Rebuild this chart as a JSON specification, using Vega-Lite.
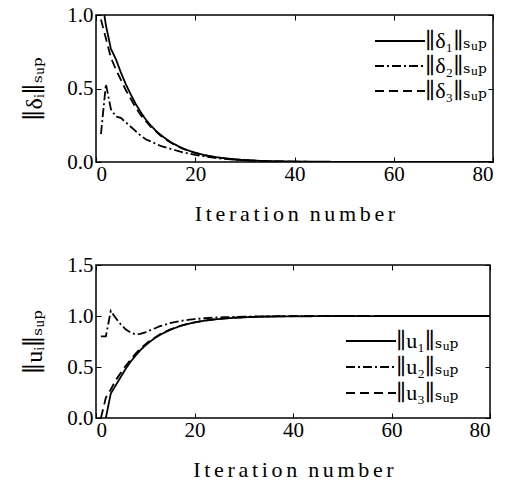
{
  "$schema": "https://vega.github.io/schema/vega-lite/v6.json",
  "background": "white",
  "padding": {"left": 22, "top": -8, "right": 5, "bottom": 5},
  "config": {
    "font": "Liberation Serif, DejaVu Serif",
    "view": {"stroke": "black", "strokeWidth": 1.5},
    "axis": {
      "domain": false, "grid": false, "ticks": true, "tickColor": "black", "tickSize": -5, "tickWidth": 1, "minExtent": 0,
      "labelFont": "Liberation Serif, DejaVu Serif", "labelFontSize": 21, "labelColor": "black",
      "titleFont": "Liberation Serif, DejaVu Serif", "titleFontWeight": "normal", "titleColor": "black"
    },
    "axisX": {"labelPadding": 6},
    "axisY": {"labelPadding": 8},
    "legend": {
      "labelFont": "Liberation Serif, DejaVu Serif", "labelFontSize": 22, "labelColor": "black",
      "symbolType": "M-2.5,0H2.5", "symbolSize": 400, "symbolStrokeWidth": 2, "symbolStrokeColor": "black", "symbolFillColor": "transparent",
      "labelOffset": 14, "title": null
    }
  },
  "datasets": {
    "delta": [
      {"it": 1, "series": "∥δ₁∥ₛᵤₚ", "v": 1.15}, {"it": 2, "series": "∥δ₁∥ₛᵤₚ", "v": 0.93}, {"it": 3, "series": "∥δ₁∥ₛᵤₚ", "v": 0.77},
      {"it": 4, "series": "∥δ₁∥ₛᵤₚ", "v": 0.70}, {"it": 5, "series": "∥δ₁∥ₛᵤₚ", "v": 0.61}, {"it": 6, "series": "∥δ₁∥ₛᵤₚ", "v": 0.53},
      {"it": 7, "series": "∥δ₁∥ₛᵤₚ", "v": 0.46}, {"it": 8, "series": "∥δ₁∥ₛᵤₚ", "v": 0.395}, {"it": 9, "series": "∥δ₁∥ₛᵤₚ", "v": 0.34},
      {"it": 10, "series": "∥δ₁∥ₛᵤₚ", "v": 0.29}, {"it": 11, "series": "∥δ₁∥ₛᵤₚ", "v": 0.25}, {"it": 12, "series": "∥δ₁∥ₛᵤₚ", "v": 0.215},
      {"it": 13, "series": "∥δ₁∥ₛᵤₚ", "v": 0.185}, {"it": 14, "series": "∥δ₁∥ₛᵤₚ", "v": 0.16}, {"it": 15, "series": "∥δ₁∥ₛᵤₚ", "v": 0.137},
      {"it": 16, "series": "∥δ₁∥ₛᵤₚ", "v": 0.118}, {"it": 17, "series": "∥δ₁∥ₛᵤₚ", "v": 0.10}, {"it": 18, "series": "∥δ₁∥ₛᵤₚ", "v": 0.086},
      {"it": 19, "series": "∥δ₁∥ₛᵤₚ", "v": 0.074}, {"it": 20, "series": "∥δ₁∥ₛᵤₚ", "v": 0.063}, {"it": 22, "series": "∥δ₁∥ₛᵤₚ", "v": 0.046},
      {"it": 24, "series": "∥δ₁∥ₛᵤₚ", "v": 0.034}, {"it": 26, "series": "∥δ₁∥ₛᵤₚ", "v": 0.025}, {"it": 28, "series": "∥δ₁∥ₛᵤₚ", "v": 0.018},
      {"it": 30, "series": "∥δ₁∥ₛᵤₚ", "v": 0.013}, {"it": 33, "series": "∥δ₁∥ₛᵤₚ", "v": 0.008}, {"it": 36, "series": "∥δ₁∥ₛᵤₚ", "v": 0.005},
      {"it": 40, "series": "∥δ₁∥ₛᵤₚ", "v": 0.003}, {"it": 50, "series": "∥δ₁∥ₛᵤₚ", "v": 0.001}, {"it": 60, "series": "∥δ₁∥ₛᵤₚ", "v": 0.0},
      {"it": 80, "series": "∥δ₁∥ₛᵤₚ", "v": 0.0},

      {"it": 1, "series": "∥δ₂∥ₛᵤₚ", "v": 0.19}, {"it": 2, "series": "∥δ₂∥ₛᵤₚ", "v": 0.53}, {"it": 3, "series": "∥δ₂∥ₛᵤₚ", "v": 0.36},
      {"it": 4, "series": "∥δ₂∥ₛᵤₚ", "v": 0.31}, {"it": 5, "series": "∥δ₂∥ₛᵤₚ", "v": 0.30}, {"it": 6, "series": "∥δ₂∥ₛᵤₚ", "v": 0.27},
      {"it": 7, "series": "∥δ₂∥ₛᵤₚ", "v": 0.24}, {"it": 8, "series": "∥δ₂∥ₛᵤₚ", "v": 0.21}, {"it": 9, "series": "∥δ₂∥ₛᵤₚ", "v": 0.18},
      {"it": 10, "series": "∥δ₂∥ₛᵤₚ", "v": 0.155}, {"it": 11, "series": "∥δ₂∥ₛᵤₚ", "v": 0.14}, {"it": 12, "series": "∥δ₂∥ₛᵤₚ", "v": 0.125},
      {"it": 13, "series": "∥δ₂∥ₛᵤₚ", "v": 0.11}, {"it": 14, "series": "∥δ₂∥ₛᵤₚ", "v": 0.10}, {"it": 15, "series": "∥δ₂∥ₛᵤₚ", "v": 0.09},
      {"it": 16, "series": "∥δ₂∥ₛᵤₚ", "v": 0.08}, {"it": 17, "series": "∥δ₂∥ₛᵤₚ", "v": 0.07}, {"it": 18, "series": "∥δ₂∥ₛᵤₚ", "v": 0.062},
      {"it": 19, "series": "∥δ₂∥ₛᵤₚ", "v": 0.055}, {"it": 20, "series": "∥δ₂∥ₛᵤₚ", "v": 0.048}, {"it": 22, "series": "∥δ₂∥ₛᵤₚ", "v": 0.037},
      {"it": 24, "series": "∥δ₂∥ₛᵤₚ", "v": 0.028}, {"it": 26, "series": "∥δ₂∥ₛᵤₚ", "v": 0.021}, {"it": 28, "series": "∥δ₂∥ₛᵤₚ", "v": 0.016},
      {"it": 30, "series": "∥δ₂∥ₛᵤₚ", "v": 0.012}, {"it": 35, "series": "∥δ₂∥ₛᵤₚ", "v": 0.005}, {"it": 40, "series": "∥δ₂∥ₛᵤₚ", "v": 0.002},
      {"it": 50, "series": "∥δ₂∥ₛᵤₚ", "v": 0.0}, {"it": 80, "series": "∥δ₂∥ₛᵤₚ", "v": 0.0},

      {"it": 1, "series": "∥δ₃∥ₛᵤₚ", "v": 0.97}, {"it": 2, "series": "∥δ₃∥ₛᵤₚ", "v": 0.84}, {"it": 3, "series": "∥δ₃∥ₛᵤₚ", "v": 0.71},
      {"it": 4, "series": "∥δ₃∥ₛᵤₚ", "v": 0.63}, {"it": 5, "series": "∥δ₃∥ₛᵤₚ", "v": 0.56}, {"it": 6, "series": "∥δ₃∥ₛᵤₚ", "v": 0.49},
      {"it": 7, "series": "∥δ₃∥ₛᵤₚ", "v": 0.43}, {"it": 8, "series": "∥δ₃∥ₛᵤₚ", "v": 0.37}, {"it": 9, "series": "∥δ₃∥ₛᵤₚ", "v": 0.32},
      {"it": 10, "series": "∥δ₃∥ₛᵤₚ", "v": 0.28}, {"it": 11, "series": "∥δ₃∥ₛᵤₚ", "v": 0.24}, {"it": 12, "series": "∥δ₃∥ₛᵤₚ", "v": 0.21},
      {"it": 13, "series": "∥δ₃∥ₛᵤₚ", "v": 0.18}, {"it": 14, "series": "∥δ₃∥ₛᵤₚ", "v": 0.155}, {"it": 15, "series": "∥δ₃∥ₛᵤₚ", "v": 0.133},
      {"it": 16, "series": "∥δ₃∥ₛᵤₚ", "v": 0.115}, {"it": 17, "series": "∥δ₃∥ₛᵤₚ", "v": 0.098}, {"it": 18, "series": "∥δ₃∥ₛᵤₚ", "v": 0.084},
      {"it": 19, "series": "∥δ₃∥ₛᵤₚ", "v": 0.072}, {"it": 20, "series": "∥δ₃∥ₛᵤₚ", "v": 0.062}, {"it": 22, "series": "∥δ₃∥ₛᵤₚ", "v": 0.045},
      {"it": 24, "series": "∥δ₃∥ₛᵤₚ", "v": 0.033}, {"it": 26, "series": "∥δ₃∥ₛᵤₚ", "v": 0.024}, {"it": 28, "series": "∥δ₃∥ₛᵤₚ", "v": 0.017},
      {"it": 30, "series": "∥δ₃∥ₛᵤₚ", "v": 0.012}, {"it": 33, "series": "∥δ₃∥ₛᵤₚ", "v": 0.007}, {"it": 36, "series": "∥δ₃∥ₛᵤₚ", "v": 0.004},
      {"it": 40, "series": "∥δ₃∥ₛᵤₚ", "v": 0.002}, {"it": 50, "series": "∥δ₃∥ₛᵤₚ", "v": 0.0}, {"it": 80, "series": "∥δ₃∥ₛᵤₚ", "v": 0.0}
    ],
    "u": [
      {"it": 1, "series": "∥u₁∥ₛᵤₚ", "v": -0.3}, {"it": 2, "series": "∥u₁∥ₛᵤₚ", "v": 0.0}, {"it": 3, "series": "∥u₁∥ₛᵤₚ", "v": 0.24},
      {"it": 4, "series": "∥u₁∥ₛᵤₚ", "v": 0.32}, {"it": 5, "series": "∥u₁∥ₛᵤₚ", "v": 0.40}, {"it": 6, "series": "∥u₁∥ₛᵤₚ", "v": 0.48},
      {"it": 7, "series": "∥u₁∥ₛᵤₚ", "v": 0.55}, {"it": 8, "series": "∥u₁∥ₛᵤₚ", "v": 0.61}, {"it": 9, "series": "∥u₁∥ₛᵤₚ", "v": 0.665},
      {"it": 10, "series": "∥u₁∥ₛᵤₚ", "v": 0.71}, {"it": 11, "series": "∥u₁∥ₛᵤₚ", "v": 0.75}, {"it": 12, "series": "∥u₁∥ₛᵤₚ", "v": 0.785},
      {"it": 13, "series": "∥u₁∥ₛᵤₚ", "v": 0.815}, {"it": 14, "series": "∥u₁∥ₛᵤₚ", "v": 0.84}, {"it": 15, "series": "∥u₁∥ₛᵤₚ", "v": 0.863},
      {"it": 16, "series": "∥u₁∥ₛᵤₚ", "v": 0.882}, {"it": 17, "series": "∥u₁∥ₛᵤₚ", "v": 0.90}, {"it": 18, "series": "∥u₁∥ₛᵤₚ", "v": 0.914},
      {"it": 19, "series": "∥u₁∥ₛᵤₚ", "v": 0.926}, {"it": 20, "series": "∥u₁∥ₛᵤₚ", "v": 0.937}, {"it": 22, "series": "∥u₁∥ₛᵤₚ", "v": 0.954},
      {"it": 24, "series": "∥u₁∥ₛᵤₚ", "v": 0.966}, {"it": 26, "series": "∥u₁∥ₛᵤₚ", "v": 0.975}, {"it": 28, "series": "∥u₁∥ₛᵤₚ", "v": 0.982},
      {"it": 30, "series": "∥u₁∥ₛᵤₚ", "v": 0.987}, {"it": 33, "series": "∥u₁∥ₛᵤₚ", "v": 0.992}, {"it": 36, "series": "∥u₁∥ₛᵤₚ", "v": 0.995},
      {"it": 40, "series": "∥u₁∥ₛᵤₚ", "v": 0.997}, {"it": 50, "series": "∥u₁∥ₛᵤₚ", "v": 0.999}, {"it": 60, "series": "∥u₁∥ₛᵤₚ", "v": 1.0},
      {"it": 80, "series": "∥u₁∥ₛᵤₚ", "v": 1.0},

      {"it": 1, "series": "∥u₂∥ₛᵤₚ", "v": 0.8}, {"it": 2, "series": "∥u₂∥ₛᵤₚ", "v": 0.8}, {"it": 3, "series": "∥u₂∥ₛᵤₚ", "v": 1.05},
      {"it": 4, "series": "∥u₂∥ₛᵤₚ", "v": 0.98}, {"it": 5, "series": "∥u₂∥ₛᵤₚ", "v": 0.92}, {"it": 6, "series": "∥u₂∥ₛᵤₚ", "v": 0.87},
      {"it": 7, "series": "∥u₂∥ₛᵤₚ", "v": 0.84}, {"it": 8, "series": "∥u₂∥ₛᵤₚ", "v": 0.82}, {"it": 9, "series": "∥u₂∥ₛᵤₚ", "v": 0.825},
      {"it": 10, "series": "∥u₂∥ₛᵤₚ", "v": 0.84}, {"it": 11, "series": "∥u₂∥ₛᵤₚ", "v": 0.86}, {"it": 12, "series": "∥u₂∥ₛᵤₚ", "v": 0.88},
      {"it": 13, "series": "∥u₂∥ₛᵤₚ", "v": 0.90}, {"it": 14, "series": "∥u₂∥ₛᵤₚ", "v": 0.915}, {"it": 15, "series": "∥u₂∥ₛᵤₚ", "v": 0.93},
      {"it": 16, "series": "∥u₂∥ₛᵤₚ", "v": 0.94}, {"it": 17, "series": "∥u₂∥ₛᵤₚ", "v": 0.95}, {"it": 18, "series": "∥u₂∥ₛᵤₚ", "v": 0.958},
      {"it": 19, "series": "∥u₂∥ₛᵤₚ", "v": 0.964}, {"it": 20, "series": "∥u₂∥ₛᵤₚ", "v": 0.97}, {"it": 22, "series": "∥u₂∥ₛᵤₚ", "v": 0.978},
      {"it": 24, "series": "∥u₂∥ₛᵤₚ", "v": 0.984}, {"it": 26, "series": "∥u₂∥ₛᵤₚ", "v": 0.988}, {"it": 28, "series": "∥u₂∥ₛᵤₚ", "v": 0.991},
      {"it": 30, "series": "∥u₂∥ₛᵤₚ", "v": 0.994}, {"it": 35, "series": "∥u₂∥ₛᵤₚ", "v": 0.997}, {"it": 40, "series": "∥u₂∥ₛᵤₚ", "v": 0.999},
      {"it": 50, "series": "∥u₂∥ₛᵤₚ", "v": 1.0}, {"it": 80, "series": "∥u₂∥ₛᵤₚ", "v": 1.0},

      {"it": 1, "series": "∥u₃∥ₛᵤₚ", "v": 0.0}, {"it": 2, "series": "∥u₃∥ₛᵤₚ", "v": 0.2}, {"it": 3, "series": "∥u₃∥ₛᵤₚ", "v": 0.28},
      {"it": 4, "series": "∥u₃∥ₛᵤₚ", "v": 0.37}, {"it": 5, "series": "∥u₃∥ₛᵤₚ", "v": 0.44}, {"it": 6, "series": "∥u₃∥ₛᵤₚ", "v": 0.51},
      {"it": 7, "series": "∥u₃∥ₛᵤₚ", "v": 0.57}, {"it": 8, "series": "∥u₃∥ₛᵤₚ", "v": 0.63}, {"it": 9, "series": "∥u₃∥ₛᵤₚ", "v": 0.68},
      {"it": 10, "series": "∥u₃∥ₛᵤₚ", "v": 0.72}, {"it": 11, "series": "∥u₃∥ₛᵤₚ", "v": 0.76}, {"it": 12, "series": "∥u₃∥ₛᵤₚ", "v": 0.79},
      {"it": 13, "series": "∥u₃∥ₛᵤₚ", "v": 0.82}, {"it": 14, "series": "∥u₃∥ₛᵤₚ", "v": 0.845}, {"it": 15, "series": "∥u₃∥ₛᵤₚ", "v": 0.867},
      {"it": 16, "series": "∥u₃∥ₛᵤₚ", "v": 0.885}, {"it": 17, "series": "∥u₃∥ₛᵤₚ", "v": 0.902}, {"it": 18, "series": "∥u₃∥ₛᵤₚ", "v": 0.916},
      {"it": 19, "series": "∥u₃∥ₛᵤₚ", "v": 0.928}, {"it": 20, "series": "∥u₃∥ₛᵤₚ", "v": 0.938}, {"it": 22, "series": "∥u₃∥ₛᵤₚ", "v": 0.955},
      {"it": 24, "series": "∥u₃∥ₛᵤₚ", "v": 0.967}, {"it": 26, "series": "∥u₃∥ₛᵤₚ", "v": 0.976}, {"it": 28, "series": "∥u₃∥ₛᵤₚ", "v": 0.983},
      {"it": 30, "series": "∥u₃∥ₛᵤₚ", "v": 0.988}, {"it": 33, "series": "∥u₃∥ₛᵤₚ", "v": 0.993}, {"it": 36, "series": "∥u₃∥ₛᵤₚ", "v": 0.996},
      {"it": 40, "series": "∥u₃∥ₛᵤₚ", "v": 0.998}, {"it": 50, "series": "∥u₃∥ₛᵤₚ", "v": 1.0}, {"it": 80, "series": "∥u₃∥ₛᵤₚ", "v": 1.0}
    ]
  },
  "bounds": "flush",
  "spacing": 103,
  "resolve": {"scale": {"strokeDash": "independent"}, "legend": {"strokeDash": "independent"}},
  "vconcat": [
    {
      "width": 397, "height": 147,
      "data": {"name": "delta"},
      "layer": [
        {
          "mark": {"type": "line", "clip": true, "color": "black", "strokeWidth": 1.8},
          "encoding": {
            "x": {"field": "it", "type": "quantitative", "scale": {"domain": [0, 80], "nice": false},
                  "axis": {"values": [0, 20, 40, 60, 80], "title": "I\u2006t\u2006e\u2006r\u2006a\u2006t\u2006i\u2006o\u2006n\u2002n\u2006u\u2006m\u2006b\u2006e\u2006r", "titleFontSize": 22, "titlePadding": 19}},
            "y": {"field": "v", "type": "quantitative", "scale": {"domain": [0, 1], "nice": false},
                  "axis": {"values": [0, 0.5, 1], "format": ".1f", "title": "∥δᵢ∥ₛᵤₚ", "titleFontSize": 24, "titlePadding": 20}},
            "strokeDash": {"field": "series", "type": "nominal",
                  "scale": {"domain": ["∥δ₁∥ₛᵤₚ", "∥δ₂∥ₛᵤₚ", "∥δ₃∥ₛᵤₚ"], "range": [[1, 0], [9, 3, 2, 3], [9, 5]]},
                  "legend": {"orient": "none", "legendX": 293, "legendY": 15, "rowPadding": 3}}
          }
        },
        {
          "mark": {"type": "line", "opacity": 0},
          "encoding": {
            "x": {"field": "it", "type": "quantitative", "axis": {"orient": "top", "values": [0, 20, 40, 60, 80], "labels": false, "tickSize": 5, "offset": -5, "title": null}},
            "y": {"field": "v", "type": "quantitative", "axis": {"orient": "right", "values": [0, 0.5, 1], "labels": false, "tickSize": 5, "offset": -5, "title": null}},
            "detail": {"field": "series"}
          }
        }
      ],
      "resolve": {"axis": {"x": "independent", "y": "independent"}}
    },
    {
      "width": 394, "height": 153,
      "data": {"name": "u"},
      "layer": [
        {
          "mark": {"type": "line", "clip": true, "color": "black", "strokeWidth": 1.8},
          "encoding": {
            "x": {"field": "it", "type": "quantitative", "scale": {"domain": [0, 80], "nice": false},
                  "axis": {"values": [0, 20, 40, 60, 80], "title": "I\u2006t\u2006e\u2006r\u2006a\u2006t\u2006i\u2006o\u2006n\u2002n\u2006u\u2006m\u2006b\u2006e\u2006r", "titleFontSize": 22, "titlePadding": 19}},
            "y": {"field": "v", "type": "quantitative", "scale": {"domain": [0, 1.5], "nice": false},
                  "axis": {"values": [0, 0.5, 1, 1.5], "format": ".1f", "title": "∥uᵢ∥ₛᵤₚ", "titleFontSize": 24, "titlePadding": 20}},
            "strokeDash": {"field": "series", "type": "nominal",
                  "scale": {"domain": ["∥u₁∥ₛᵤₚ", "∥u₂∥ₛᵤₚ", "∥u₃∥ₛᵤₚ"], "range": [[1, 0], [9, 3, 2, 3], [9, 5]]},
                  "legend": {"orient": "none", "legendX": 264, "legendY": 65, "rowPadding": 4}}
          }
        },
        {
          "mark": {"type": "line", "opacity": 0},
          "encoding": {
            "x": {"field": "it", "type": "quantitative", "axis": {"orient": "top", "values": [0, 20, 40, 60, 80], "labels": false, "tickSize": 5, "offset": -5, "title": null}},
            "y": {"field": "v", "type": "quantitative", "axis": {"orient": "right", "values": [0, 0.5, 1, 1.5], "labels": false, "tickSize": 5, "offset": -5, "title": null}},
            "detail": {"field": "series"}
          }
        }
      ],
      "resolve": {"axis": {"x": "independent", "y": "independent"}}
    }
  ]
}
